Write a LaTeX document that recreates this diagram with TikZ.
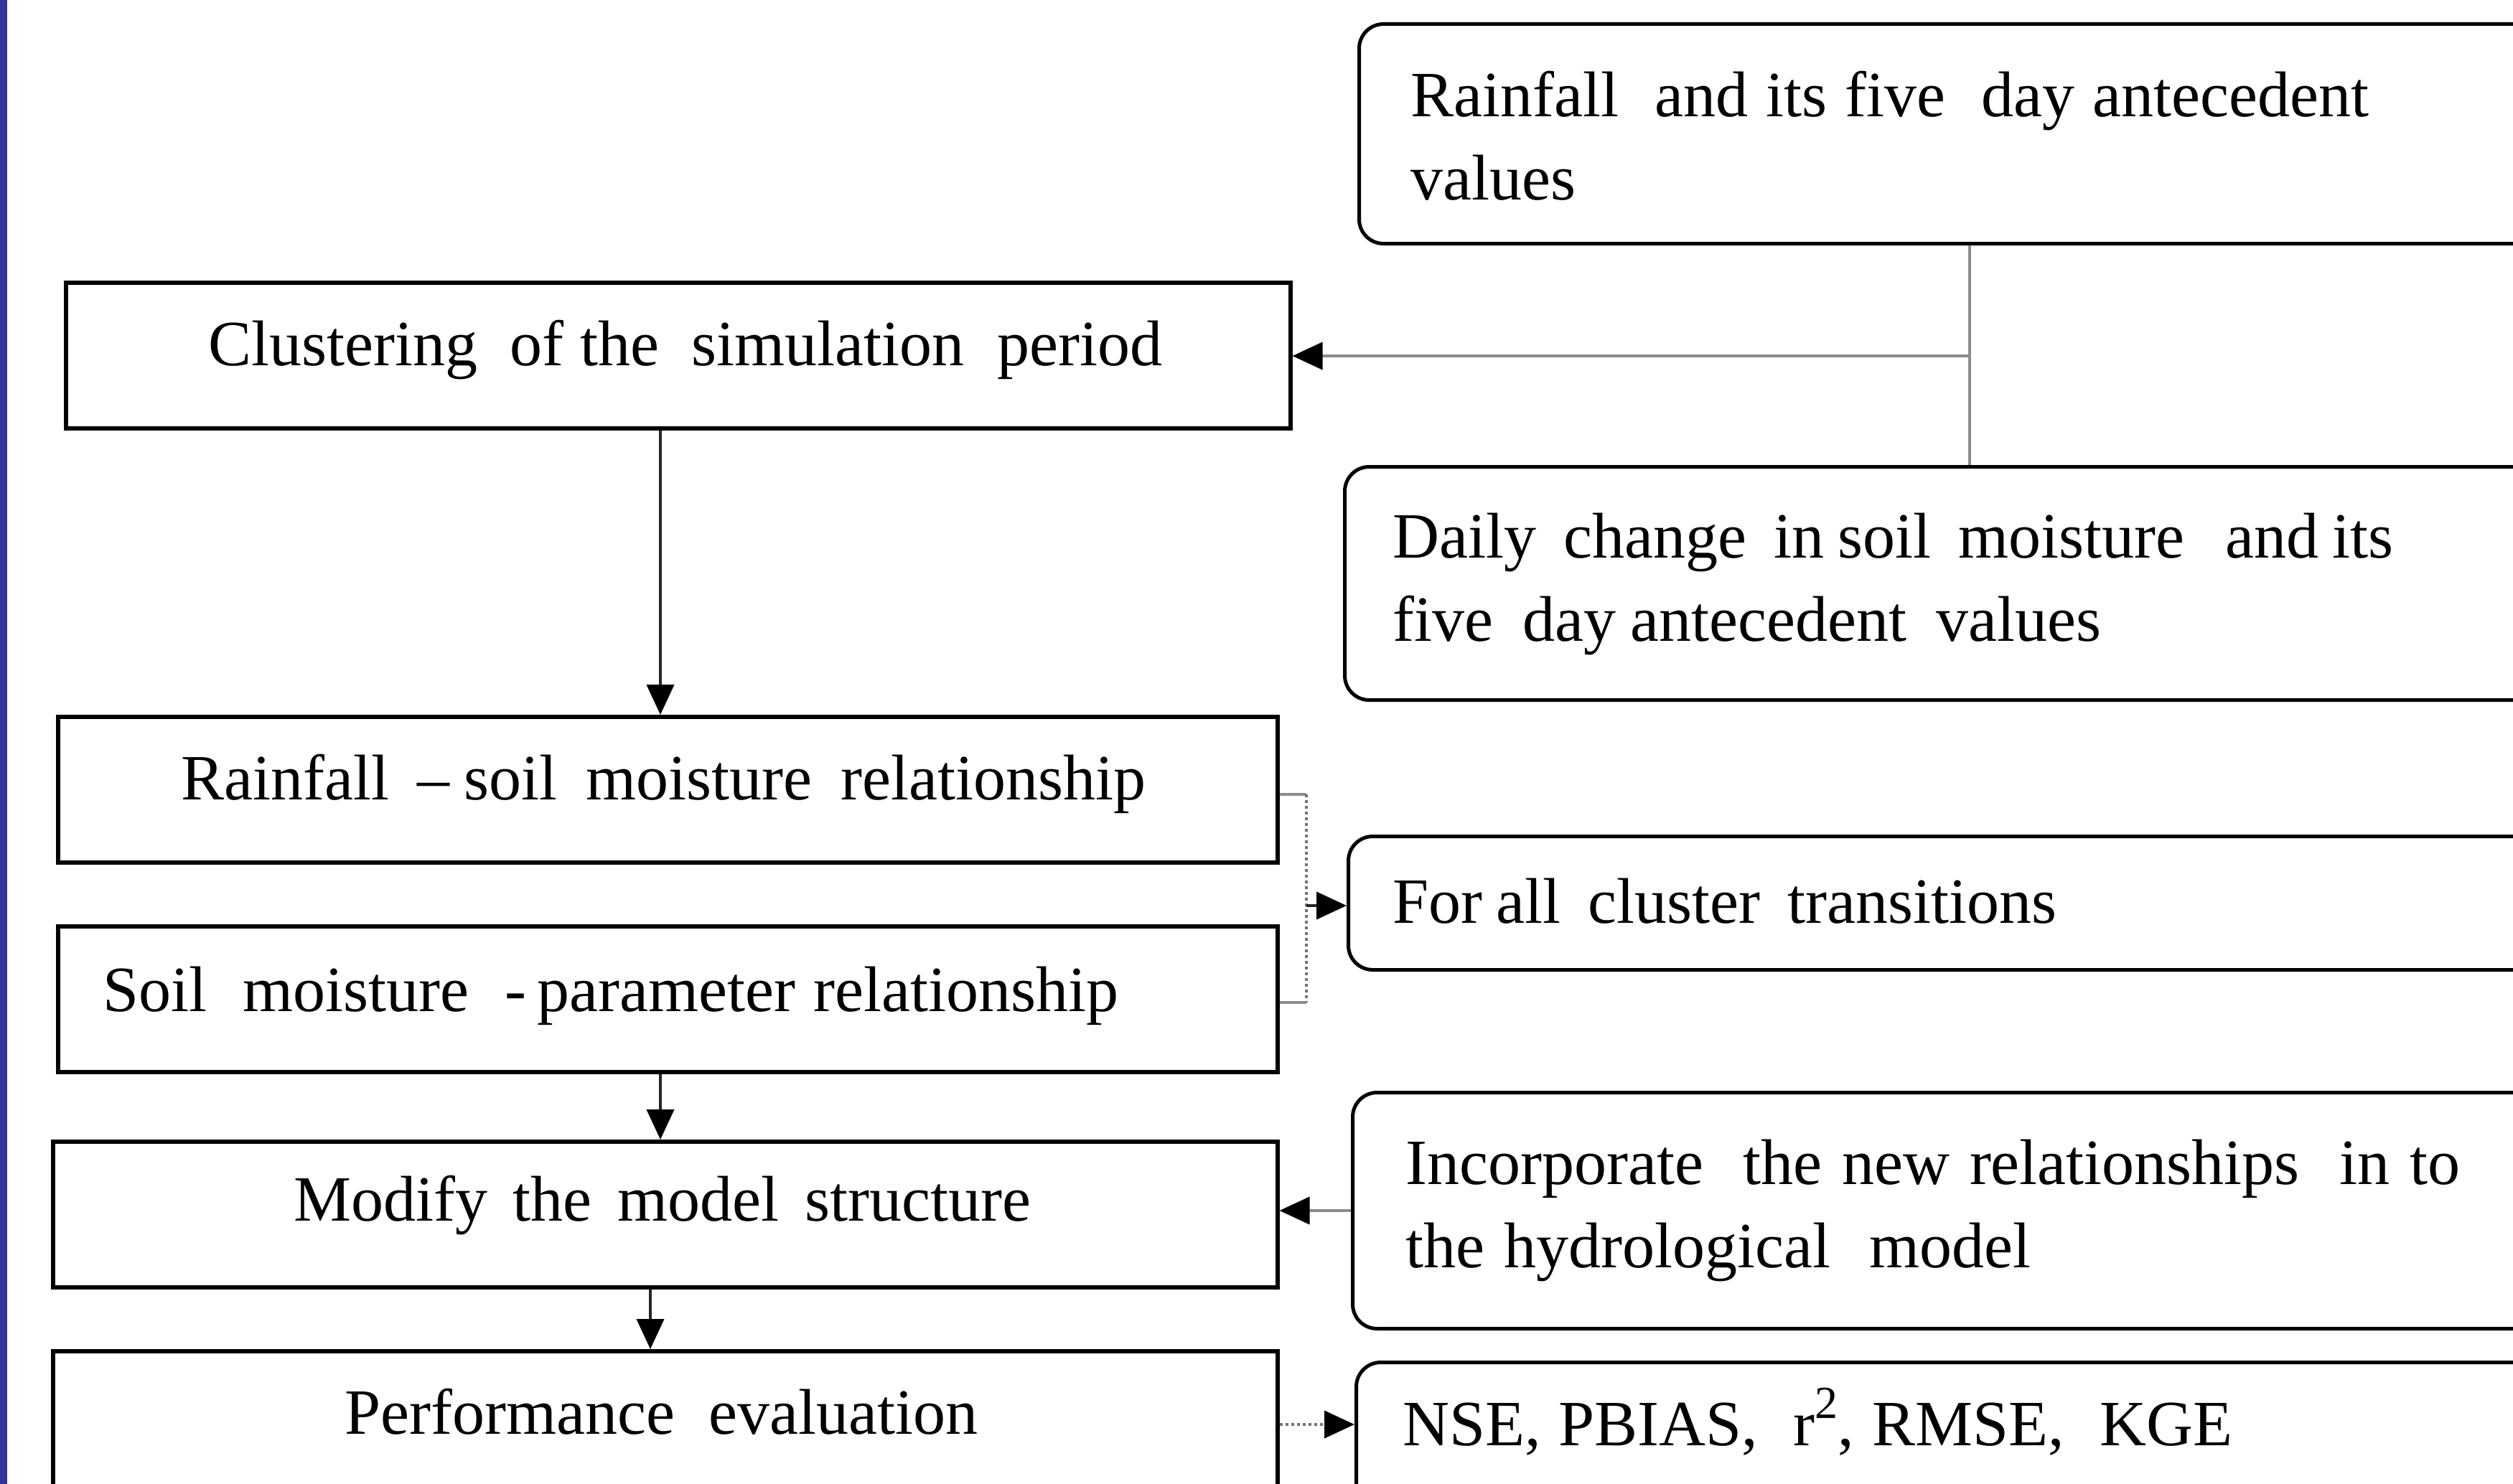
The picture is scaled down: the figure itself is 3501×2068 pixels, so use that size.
\documentclass[tikz,border=0pt]{standalone}
\usepackage{fontspec}
\setmainfont{Liberation Serif}
\usetikzlibrary{arrows.meta}
\definecolor{barblue}{RGB}{51,51,153}
\newcommand\fitw[2]{\makebox[#1pt][s]{#2}}
\begin{document}
\begin{tikzpicture}[x=1pt,y=-1pt,
  sqbox/.style={draw=black,line width=5.5pt,rectangle,inner sep=0pt,anchor=north west,minimum height=203pt},
  rbox/.style={draw=black,line width=5pt,rectangle,rounded corners=34pt,inner sep=0pt,anchor=north west},
  txt/.style={anchor=base west,inner sep=0pt,align=left,font=\fontsize{90}{116}\selectfont},
  conn/.style={line width=4pt,draw=black!85},
  greyconn/.style={line width=4pt,draw=black!45},
  dotconn/.style={line width=4pt,draw=black!55,dash pattern=on 4pt off 4pt},
  tip/.tip={Triangle[length=42pt,width=38pt,color=black]},
  arr/.style={conn,-tip}
]
\useasboundingbox (0,0) rectangle (3501,2068);
\clip (0,0) rectangle (3501,2068);
\fill[barblue] (0,0) rectangle (10,2068);

% left column boxes
\node[sqbox,minimum width=1706pt] (clus) at (89,391) {};
\node[sqbox,minimum width=1699pt] (rs) at (78,996) {};
\node[sqbox,minimum width=1699pt] (sp) at (78,1288) {};
\node[sqbox,minimum width=1706pt] (mod) at (71,1588) {};
\node[sqbox,minimum width=1706pt,minimum height=300pt] (perf) at (71,1880) {};

% right column rounded boxes
\node[rbox,minimum width=1709pt,minimum height=306pt] (rain) at (1891,31) {};
\node[rbox,minimum width=1729pt,minimum height=325pt] (daily) at (1871,648) {};
\node[rbox,minimum width=1724pt,minimum height=186pt] (forall) at (1876,1163) {};
\node[rbox,minimum width=1718pt,minimum height=329pt] (inc) at (1882,1520) {};
\node[rbox,minimum width=1713pt,minimum height=320pt] (nse) at (1887,1896) {};

% texts
\node[txt] (tclus) at (290,509) {\fitw{1329}{Clustering\ \ of the\ \ simulation\ \ period}};
\node[txt] (trs) at (252,1114) {\fitw{1344}{Rainfall\ \ -- soil\ \ moisture\ \ relationship}};
\node[txt] (tsp) at (143,1409) {\fitw{1415}{Soil\ \ moisture\ \ -\,parameter\ relationship}};
\node[txt] (tmod) at (409,1701) {\fitw{1027}{Modify\ \ the\ \ model\ \ structure}};
\node[txt] (tperf) at (480,1998) {\fitw{882}{Performance\ \ \ evaluation}};
\node[txt] (train) at (1965,279) {\fitw{1335}{Rainfall\ \ and its five\ \ day antecedent}\\\fitw{219}{values}};
\node[txt] (tdaily) at (1940,893) {\fitw{1394}{Daily\ \ change\ \ in soil\ \ moisture\ \ \ and its}\\\fitw{987}{five\ \ day antecedent\ \ values}};
\node[txt] (tforall) at (1940,1286) {\fitw{925}{For all\ \ cluster\ \ transitions}};
\node[txt] (tinc) at (1958,1766) {\fitw{1469}{Incorporate\ \ the new relationships\ \ in to}\\\fitw{871}{the hydrological\ \ model}};
\node[txt] (tnse) at (1954,2014) {\fitw{1156}{NSE, PBIAS,\ \ r\raisebox{0.42em}{\fontsize{64}{64}\selectfont 2}, RMSE,\ \ KGE}};

% connectors
\coordinate (j1) at (2744,496);
\draw[greyconn] (j1 |- rain.south) -- (j1 |- daily.north);
\draw[greyconn,-tip] (j1) -- (j1 -| clus.east);

\coordinate (x1) at (920,0);
\coordinate (x2) at (906,0);
\draw[arr] (clus.south -| x1) -- (rs.north -| x1);
\draw[arr] (sp.south -| x1) -- (mod.north -| x1);
\draw[arr] (mod.south -| x2) -- (perf.north -| x2);

\coordinate (b1) at (1820,1107);
\coordinate (b2) at (1820,1397);
\coordinate (b3) at (1820,1262);
\draw[greyconn] (b1 -| rs.east) -- (b1);
\draw[greyconn] (b2 -| sp.east) -- (b2);
\draw[dotconn] (b1) -- (b2);
\draw[conn,-tip] (b3) -- (b3 -| forall.west);

\draw[greyconn,-tip] (inc.west) -- (inc.west -| mod.east);
\coordinate (p1) at (0,1985);
\draw[dotconn,-tip] (p1 -| perf.east) -- (p1 -| nse.west);
\end{tikzpicture}
\end{document}
